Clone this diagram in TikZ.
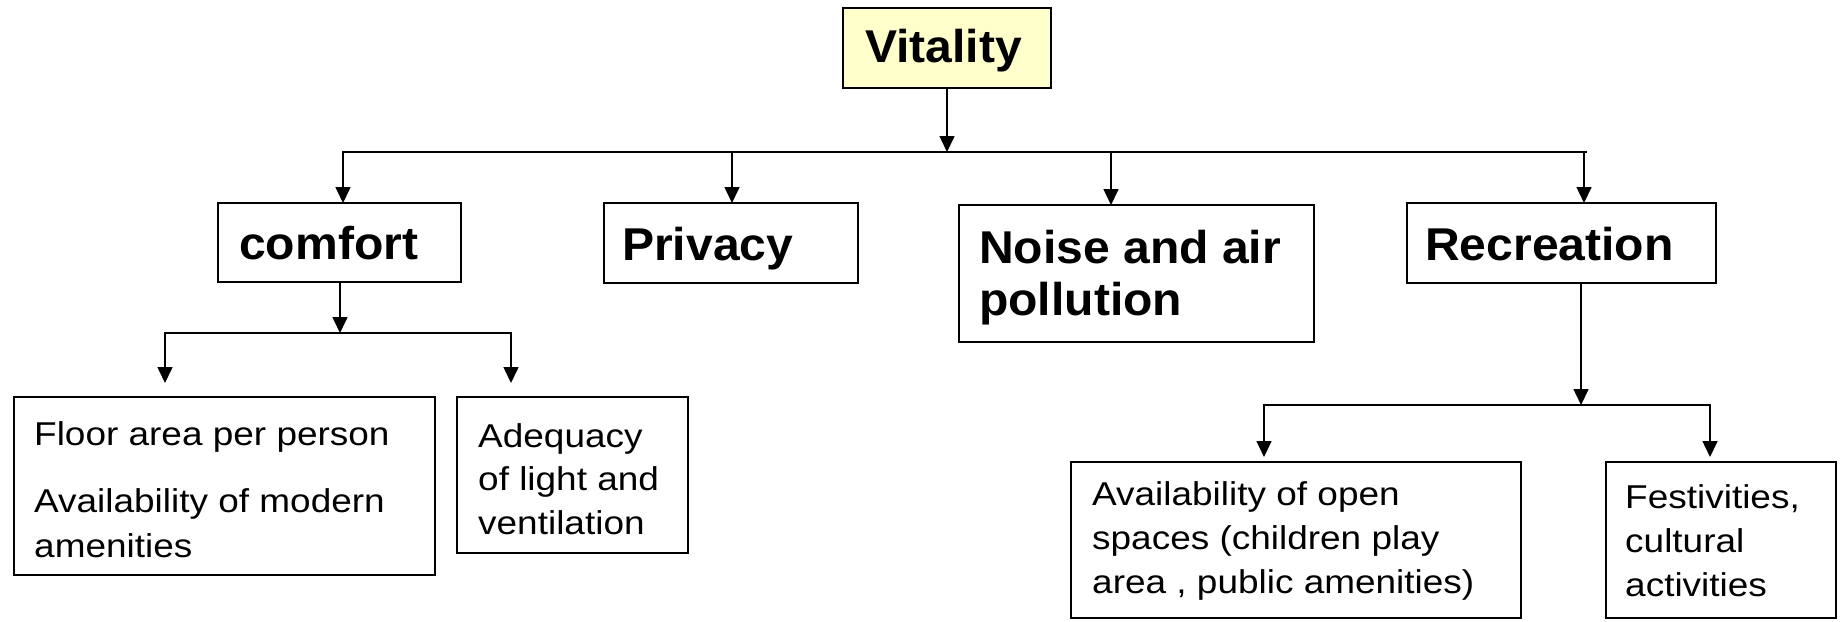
\documentclass[tikz,border=0pt]{standalone}
\usepackage{fontspec}
\setmainfont{Liberation Sans}
\newfontfamily\bodyfont{Liberation Sans}[FakeStretch=1.12]
\newfontfamily\headfont{Liberation Sans}[FakeStretch=1.045]
\usetikzlibrary{arrows.meta}
\definecolor{paleyellow}{RGB}{255,255,204}
% stacked lines whose reference point is the first baseline
\newcommand\linestack[2]{\vtop{\baselineskip=#1\lineskiplimit=-100pt\lineskip=0pt\relax #2}}

\begin{document}
\begin{tikzpicture}[x=1pt,y=-1pt,
  box/.style={draw=black, line width=1.6pt, anchor=north west, inner sep=0pt, outer sep=0pt},
  head/.style={anchor=base west, inner sep=0pt, font=\headfont\fontsize{46}{52}\selectfont\bfseries},
  body/.style={anchor=base west, inner sep=0pt, font=\bodyfont\fontsize{33}{44}\selectfont},
  link/.style={line width=1.6pt, line join=miter},
  arr/.style={link, -{Triangle[length=16pt,width=15pt]}}]
\useasboundingbox (0,0) rectangle (1843,621);

% boxes
\node[box, fill=paleyellow, minimum width=208pt, minimum height=80pt] (vit) at (843,8) {};
\node[box, minimum width=243pt, minimum height=79pt]  (comfort)    at (218,203) {};
\node[box, minimum width=254pt, minimum height=80pt]  (privacy)    at (604,203) {};
\node[box, minimum width=355pt, minimum height=137pt] (noise)      at (959,205) {};
\node[box, minimum width=309pt, minimum height=80pt]  (recreation) at (1407,203) {};
\node[box, minimum width=421pt, minimum height=178pt] (floor)      at (14,397) {};
\node[box, minimum width=231pt, minimum height=156pt] (adequacy)   at (457,397) {};
\node[box, minimum width=450pt, minimum height=156pt] (openspace)  at (1071,462) {};
\node[box, minimum width=230pt, minimum height=156pt] (festive)    at (1606,462) {};

% texts
\node[head] (tvit) at (865,62) {Vitality};
\node[head] (tcomfort) at (239,259) {comfort};
\node[head] (tprivacy) at (622,260) {Privacy};
\node[head] (tnoise) at (979,263) {\linestack{52pt}{\hbox{Noise and air}\hbox{pollution}}};
\node[head] (trec) at (1425,260) {Recreation};
\node[body] (tfloor) at (34,445) {\linestack{45pt}{\hbox{Floor area per person}\vskip22pt\hbox{Availability of modern}\hbox{amenities}}};
\node[body] (tadeq) at (478,447) {\linestack{43.5pt}{\hbox{Adequacy}\hbox{of light and}\hbox{ventilation}}};
\node[body] (topen) at (1092,505) {\linestack{44pt}{\hbox{Availability of open}\hbox{spaces (children play}\hbox{area , public amenities)}}};
\node[body] (tfest) at (1625,508) {\linestack{44pt}{\hbox{Festivities,}\hbox{cultural}\hbox{activities}}};

% top level connectors
\coordinate (vj) at (vit.south |- 0,152);
\coordinate (dc) at (343,152);
\coordinate (dp) at (732,152);
\coordinate (dn) at (1111,152);
\coordinate (dr) at (1584,152);
\draw[link] (dr) -- (1587,152);
\draw[arr] (vit.south) -- (vj);
\draw[arr] (vj) -| (dc |- comfort.north);
\draw[arr] (vj) -| (dp |- privacy.north);
\draw[arr] (vj) -| (dn |- noise.north);
\draw[arr] (vj) -| (dr |- recreation.north);

% comfort branch
\coordinate (cj) at (340,333);
\coordinate (cfl) at (165,383);
\coordinate (cad) at (511,383);
\draw[arr] (comfort.south -| cj) -- (cj);
\draw[arr] (cj) -| (cfl);
\draw[arr] (cj) -| (cad);

% recreation branch
\coordinate (rj) at (1581,405);
\coordinate (rop) at (1264,457);
\coordinate (rfe) at (1710,457);
\draw[arr] (recreation.south -| rj) -- (rj);
\draw[arr] (rj) -| (rop);
\draw[arr] (rj) -| (rfe);
\end{tikzpicture}
\end{document}
